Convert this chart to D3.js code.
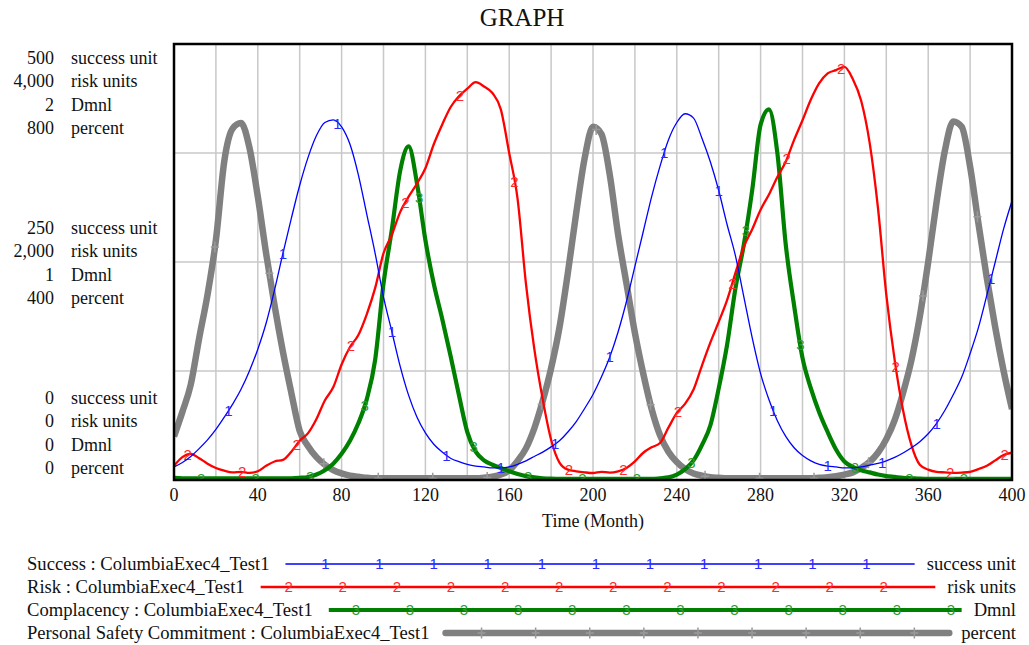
<!DOCTYPE html>
<html>
<head>
<meta charset="utf-8">
<title>GRAPH</title>
<script src="https://d3js.org/d3.v7.min.js"></script>
<style>
  body { margin:0; background:#fff; }
  svg text { font-family: "Liberation Serif", "Times New Roman", serif; fill:#111; }
</style>
</head>
<body>
<svg id="chart" width="1029" height="645"></svg>
<script>
// time axis, one value every 4 months
const months = d3.range(0, 401, 4);

const success = [
  15, 20, 27, 36, 46, 58, 72, 87, 104, 125,
  150, 180, 218, 260, 300, 338, 370, 395, 410, 413,
  405, 385, 350, 305, 260, 210, 170, 130, 97, 72,
  54, 41, 32, 25, 21, 18, 16, 15, 14, 14,
  15, 18, 22, 27, 32, 38, 45, 55, 67, 82,
  98, 118, 141, 170, 205, 245, 285, 325, 360, 390,
  410, 420, 415, 392, 365, 332, 293, 257, 210, 163,
  122, 92, 68, 50, 37, 28, 22, 18, 16, 15,
  14, 14, 15, 17, 19, 22, 26, 31, 37, 44,
  53, 65, 80, 98, 118, 145, 175, 212, 250, 288,
  320
];

const risk = [
  130, 210, 240, 200, 150, 110, 85, 70, 75, 65,
  80, 130, 170, 185, 260, 360, 430, 560, 730, 850,
  1060, 1220, 1330, 1520, 1760, 2080, 2250, 2460, 2600, 2720,
  2860, 3080, 3260, 3420, 3520, 3590, 3650, 3610, 3550, 3400,
  3000, 2580, 1800, 1200, 740, 370, 160, 95, 80, 70,
  64, 75, 68, 80, 110, 170, 250, 300, 340, 480,
  615, 700, 830, 1050, 1260, 1450, 1650, 1900, 2140, 2300,
  2480, 2620, 2780, 2920, 3120, 3300, 3490, 3640, 3730, 3760,
  3790, 3680, 3480, 3100, 2500, 1700, 1100, 640, 320, 140,
  95, 75, 70, 65, 68, 75, 100, 130, 180, 230,
  250
];

const complacency = [
  0.01, 0.008, 0.008, 0.008, 0.008, 0.008, 0.008, 0.008, 0.008, 0.008,
  0.008, 0.008, 0.008, 0.008, 0.008, 0.01, 0.014, 0.025, 0.045, 0.075,
  0.12, 0.18, 0.26, 0.37, 0.55, 0.90, 1.15, 1.42, 1.53, 1.36,
  1.10, 0.90, 0.74, 0.57, 0.39, 0.22, 0.13, 0.09, 0.07, 0.055,
  0.04, 0.028, 0.018, 0.012, 0.008, 0.006, 0.005, 0.005, 0.005, 0.005,
  0.005, 0.005, 0.005, 0.005, 0.005, 0.005, 0.005, 0.005, 0.008, 0.012,
  0.025, 0.05, 0.09, 0.16, 0.25, 0.42, 0.62, 0.88, 1.08, 1.33,
  1.63, 1.70, 1.50, 1.08, 0.80, 0.56, 0.42, 0.31, 0.22, 0.14,
  0.085, 0.06, 0.045, 0.035, 0.025, 0.018, 0.014, 0.01, 0.008, 0.006,
  0.005, 0.005, 0.005, 0.005, 0.005, 0.005, 0.005, 0.005, 0.005, 0.005,
  0.005
];

const safety = [
  80, 125, 175, 260, 340, 440, 585, 645, 655, 610,
  520, 415, 320, 235, 160, 90, 62, 42, 28, 18,
  12, 8, 6, 4, 3, 3, 3, 3, 3, 3,
  3, 3, 3, 3, 3, 3, 3, 4, 6, 10,
  18, 35, 58, 95, 145, 205, 280, 380, 490, 590,
  648, 635, 560, 450, 360, 270, 195, 130, 82, 52,
  33, 20, 12, 8, 5, 4, 3, 3, 3, 3,
  3, 3, 3, 3, 3, 3, 3, 4, 5, 7,
  10, 14, 22, 33, 50, 75, 110, 160, 220, 300,
  400, 510, 605, 658, 648, 575, 470, 370, 280, 200,
  130
];

const seriesNames = ["Success", "Risk", "Complacency", "Personal Safety Commitment"];
const runName = "ColumbiaExec4_Test1";
const unitNames = ["success unit", "risk units", "Dmnl", "percent"];
const axisMax = [500, 4000, 2, 800];
const xTicks = d3.range(0, 401, 40);
const markerLabels = ["1", "2", "3", "+"];

const W = 1029, H = 645;
const plot = { left: 174, right: 1012, top: 44, bottom: 480 };

const colors = ["#0000ff", "#ff0000", "#008000", "#808080"];
const markColors = ["#2a2aff", "#ff2a2a", "#2f9a2f", "#9a9a9a"];
const widths = [1.3, 2.3, 4.2, 6.5];
const markerStart = [26, 6.5, 13, 19.5];   // months of first number on each line
const markerStep = 26;

const svg = d3.select("#chart");
svg.append("rect").attr("width", W).attr("height", H).attr("fill", "#fff");

const x = d3.scaleLinear().domain([0, 400]).range([plot.left, plot.right]);
const yScales = axisMax.map(m => d3.scaleLinear().domain([0, m]).range([plot.bottom, plot.top]));
const fmt = d3.format(",");

// title
svg.append("text")
  .attr("x", 522).attr("y", 26)
  .attr("text-anchor", "middle")
  .style("font-size", "25px")
  .text("GRAPH");

// grid
const grid = svg.append("g").attr("stroke", "#c8c8c8").attr("stroke-width", 1.5);
grid.selectAll("line.v")
  .data(d3.range(20, 400, 20))
  .join("line")
  .attr("x1", d => x(d)).attr("x2", d => x(d))
  .attr("y1", plot.top).attr("y2", plot.bottom);
grid.selectAll("line.h")
  .data([0.25, 0.5, 0.75])
  .join("line")
  .attr("x1", plot.left).attr("x2", plot.right)
  .attr("y1", d => yScales[0](d * axisMax[0])).attr("y2", d => yScales[0](d * axisMax[0]));

// y labels: four stacked scales at top, middle and bottom
const yLab = svg.append("g").style("font-size", "18px");
[1, 0.5, 0].forEach(f => {
  const yy = yScales[0](f * axisMax[0]);
  const first = f === 1 ? yy + 20 : (f === 0 ? yy - 76 : yy - 28);
  axisMax.forEach((m, i) => {
    const by = first + i * 23.3;
    yLab.append("text").attr("x", 54).attr("y", by).attr("text-anchor", "end").text(fmt(f * m));
    yLab.append("text").attr("x", 71).attr("y", by).text(unitNames[i]);
  });
});

// x tick labels
svg.append("g").style("font-size", "18px")
  .selectAll("text")
  .data(xTicks)
  .join("text")
  .attr("x", d => x(d)).attr("y", 501)
  .attr("text-anchor", "middle")
  .text(d => d);

svg.append("text")
  .attr("x", (plot.left + plot.right) / 2).attr("y", 527)
  .attr("text-anchor", "middle")
  .style("font-size", "18px")
  .text("Time (Month)");

// series
const allSeries = [success, risk, complacency, safety];
svg.append("clipPath").attr("id", "clip")
  .append("rect")
  .attr("x", plot.left).attr("y", plot.top - 2)
  .attr("width", plot.right - plot.left).attr("height", plot.bottom - plot.top + 2);

const linesG = svg.append("g").attr("clip-path", "url(#clip)");

function valueAt(vals, t) {
  const i = Math.min(Math.floor(t / 4), months.length - 2);
  const a = (t - months[i]) / 4;
  return vals[i] * (1 - a) + vals[i + 1] * a;
}

function drawMarker(g, i, px, py) {
  if (i === 3) {
    g.append("path")
      .attr("d", `M${px - 4},${py}H${px + 4}M${px},${py - 5.5}V${py + 5.5}`)
      .attr("stroke", markColors[i]).attr("stroke-width", 1.5).attr("fill", "none");
  } else {
    g.append("text")
      .attr("x", px).attr("y", py).attr("dy", "0.36em")
      .attr("text-anchor", "middle")
      .style("font-family", "'Liberation Sans', Arial, sans-serif")
      .style("font-size", "15px")
      .style("fill", markColors[i])
      .text(markerLabels[i]);
  }
}

[3, 2, 1, 0].forEach(i => {
  const vals = allSeries[i];
  const y = yScales[i];
  const line = d3.line()
    .x((d, k) => x(months[k]))
    .y(d => y(d))
    .curve(d3.curveMonotoneX);
  linesG.append("path")
    .datum(vals)
    .attr("fill", "none")
    .attr("stroke", colors[i])
    .attr("stroke-width", widths[i])
    .attr("stroke-linejoin", "round")
    .attr("d", line);
  const mg = linesG.append("g");
  for (let t = markerStart[i]; t <= 400; t += markerStep) {
    drawMarker(mg, i, x(t), y(valueAt(vals, t)));
  }
});

// frame
svg.append("rect")
  .attr("x", plot.left).attr("y", plot.top)
  .attr("width", plot.right - plot.left).attr("height", plot.bottom - plot.top)
  .attr("fill", "none").attr("stroke", "#000").attr("stroke-width", 2.5);

// legend
const legend = svg.append("g").style("font-size", "18.6px");
const legendY = [564, 587, 610, 633];
const markerOffset = [40, 28, 27, 36];
seriesNames.forEach((name, i) => {
  const cy = legendY[i];
  const label = legend.append("text").attr("x", 27).attr("y", cy + 6).text(`${name} : ${runName}`);
  const unit = legend.append("text").attr("x", 1016).attr("y", cy + 6).attr("text-anchor", "end").text(unitNames[i]);
  const x0 = 27 + label.node().getComputedTextLength() + 16;
  const x1 = 1016 - unit.node().getComputedTextLength() - 12;
  legend.append("line")
    .attr("x1", x0).attr("x2", x1).attr("y1", cy).attr("y2", cy)
    .attr("stroke", colors[i]).attr("stroke-width", widths[i])
    .attr("stroke-linecap", i === 3 ? "round" : "butt");
  for (let px = x0 + markerOffset[i]; px <= x1 + 1; px += 54.1) {
    drawMarker(legend, i, px, cy);
  }
});
</script>
</body>
</html>
